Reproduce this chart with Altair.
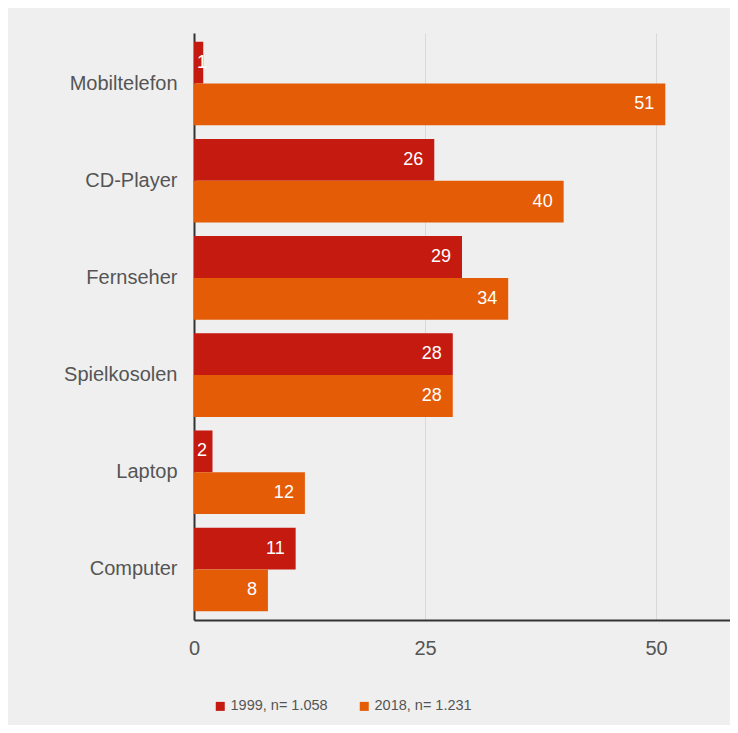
import altair as alt
import pandas as pd

categories = ["Mobiltelefon", "CD-Player", "Fernseher", "Spielkosolen", "Laptop", "Computer"]
series_names = ["1999, n= 1.058", "2018, n= 1.231"]
values_1999 = [1, 26, 29, 28, 2, 11]
values_2018 = [51, 40, 34, 28, 12, 8]
x_ticks = [0, 25, 50]
colors = ["#c41a10", "#e45c06"]

rows = []
for c, v in zip(categories, values_1999):
    rows.append({"Gerät": c, "Jahr": series_names[0], "Wert": v})
for c, v in zip(categories, values_2018):
    rows.append({"Gerät": c, "Jahr": series_names[1], "Wert": v})
df = pd.DataFrame(rows)

FONT = "Liberation Sans"

y_enc = alt.Y("Gerät:N", sort=categories,
              scale=alt.Scale(paddingInner=0.14, paddingOuter=0.09),
              axis=alt.Axis(title=None, ticks=False, domain=True, domainColor="#333333",
                            domainWidth=2, labelFontSize=20, labelColor="#555555",
                            labelFont=FONT, labelPadding=17, grid=False))
yoff = alt.YOffset("Jahr:N", sort=series_names, scale=alt.Scale(paddingInner=0, paddingOuter=0))
x_enc = alt.X("Wert:Q", scale=alt.Scale(domain=[0, 58], nice=False, zero=True),
              axis=alt.Axis(title=None, values=x_ticks, ticks=False, domain=True,
                            domainColor="#333333", domainWidth=2, grid=True,
                            gridColor="#d9d9d9", gridWidth=1, labelFontSize=20,
                            labelColor="#555555", labelFont=FONT, labelPadding=18,
                            labelFlush=False))

bars = alt.Chart(df).mark_bar().encode(
    y=y_enc, yOffset=yoff, x=x_enc,
    color=alt.Color("Jahr:N", sort=series_names,
                    scale=alt.Scale(domain=series_names, range=colors),
                    legend=alt.Legend(title=None, orient="none", legendX=19, legendY=666,
                                      direction="horizontal", symbolType="square",
                                      symbolSize=81, symbolStrokeWidth=0,
                                      labelFontSize=14.5, labelColor="#555555",
                                      labelFont=FONT, labelOffset=3, columnPadding=29)),
)

labels_big = alt.Chart(df).transform_filter("datum.Wert >= 5").mark_text(
    align="right", baseline="middle", dx=-11, color="white", fontSize=18, font=FONT).encode(
    y=alt.Y("Gerät:N", sort=categories), yOffset=alt.YOffset("Jahr:N", sort=series_names),
    x=alt.X("Wert:Q"), text=alt.Text("Wert:Q"),
)

labels_small = alt.Chart(df).transform_filter("datum.Wert < 5").transform_calculate(
    start="0").mark_text(
    align="left", baseline="middle", dx=3, color="white", fontSize=18, font=FONT).encode(
    y=alt.Y("Gerät:N", sort=categories), yOffset=alt.YOffset("Jahr:N", sort=series_names),
    x=alt.X("start:Q"), text=alt.Text("Wert:Q"),
)

chart = alt.layer(bars, labels_big, labels_small).properties(
    width=536, height=587,
    background="#efefef",
    padding={"left": 186, "top": 25, "right": 0, "bottom": 105},
    autosize=alt.AutoSizeParams(type="none"),
).configure_view(stroke=None)

chart.save("out.html", embed_options={"renderer": "svg", "actions": False})
